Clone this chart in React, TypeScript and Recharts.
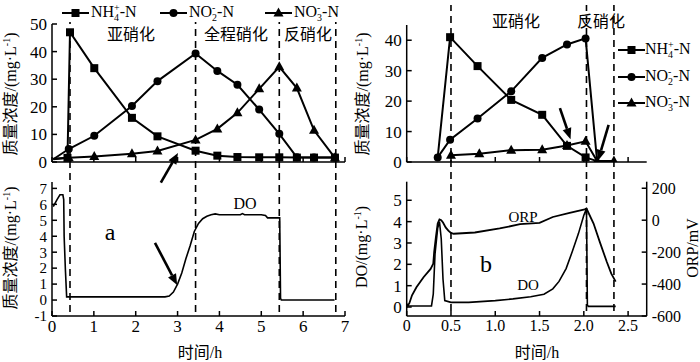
import React from "react";
import { LineChart, Line, XAxis, YAxis, ReferenceLine, Legend } from "recharts";

const SERIF = "'Liberation Serif', 'Times New Roman', serif";
const MIX = "'Liberation Serif', 'Noto Sans CJK SC', serif";

// ---------------- Panel a (left) ----------------
const aNH4Time = [0.03, 0.37, 0.43, 1.01, 1.91, 2.52, 3.43, 3.95, 4.43, 4.95, 5.43, 5.85, 6.26, 6.76];
const aNH4Value = [1.2, 1.5, 47, 34, 16, 9.3, 4.1, 2.3, 1.8, 1.7, 1.7, 1.6, 1.6, 1.6];
const aNO2Time = [0.03, 0.4, 1.01, 1.91, 2.52, 3.43, 3.95, 4.43, 4.95, 5.43, 5.85, 6.26, 6.76];
const aNO2Value = [1.0, 4.7, 9.5, 20.3, 29.3, 39.3, 33, 28, 19, 10.2, 1.7, 1.6, 1.6];
const aNO3Time = [0.03, 0.4, 1.01, 1.91, 2.52, 3.43, 3.95, 4.43, 4.95, 5.43, 5.85, 6.26, 6.76];
const aNO3Value = [1.0, 1.5, 2.0, 3.0, 4.0, 8.0, 12, 17.8, 26.5, 34.5, 26.8, 11.5, 1.5];

const aDOTime = [0.03, 0.12, 0.19, 0.26, 0.28, 0.29, 0.32, 0.35, 1.0, 2.0, 2.7, 2.8, 2.9, 3.0, 3.1, 3.2, 3.3, 3.4, 3.5, 3.6, 3.7, 3.8, 3.9, 4.0, 4.5, 4.55, 4.6, 5.0, 5.1, 5.15, 5.44, 5.46, 5.48, 6.75];
const aDOValue = [5.85, 6.3, 6.6, 6.6, 6.3, 4.0, 1.9, 0.2, 0.2, 0.2, 0.2, 0.25, 0.5, 1.0, 1.7, 2.6, 3.4, 4.3, 4.8, 5.1, 5.25, 5.35, 5.4, 5.35, 5.35, 5.42, 5.35, 5.35, 5.3, 5.15, 5.15, 0.1, 0.0, 0.0];

const aStageLines = [0.43, 3.43, 5.43, 6.78];
const aTopTicks = [0, 1, 2, 3, 4, 5, 6, 7];
const aConcTicks = [0, 10, 20, 30, 40, 50];
const aDOTicks = [-1, 0, 1, 2, 3, 4, 5, 6, 7];
const aTopArrow = [{ x: 2.6, y: -7.5 }, { x: 3.01, y: 3.3 }];
const aBottomArrow = [{ x: 2.46, y: 3.59 }, { x: 2.99, y: 0.94 }];

// ---------------- Panel b (right) ----------------
const bNH4Time = [0.35, 0.49, 0.8, 1.18, 1.53, 1.81, 2.02, 2.15];
const bNH4Value = [1.5, 41, 31.5, 20.4, 15.5, 5.3, 1.5, 0.3];
const bNO2Time = [0.35, 0.49, 0.8, 1.18, 1.53, 1.81, 2.02, 2.15];
const bNO2Value = [1.5, 7.3, 14.3, 23.2, 34.2, 38.6, 40.6, 0.3];
const bNO3Time = [0.5, 0.82, 1.18, 1.53, 1.81, 2.02, 2.15, 2.34];
const bNO3Value = [2.2, 2.7, 3.9, 4.0, 5.4, 6.8, 0.3, 0.3];

const bDOTime = [0, 0.02, 0.28, 0.3, 0.32, 0.35, 0.37, 0.39, 0.41, 0.43, 0.5, 0.7, 1.0, 1.2, 1.4, 1.55, 1.65, 1.72, 1.8, 1.87, 1.94, 2.0, 2.03, 2.04, 2.05, 2.36];
const bDOValue = [0.15, 0.05, 0.05, 0.6, 2.5, 3.7, 4.0, 3.2, 1.3, 0.3, 0.22, 0.22, 0.3, 0.38, 0.48, 0.6, 0.85, 1.2, 1.8, 2.6, 3.45, 4.3, 4.6, 0.1, 0.03, 0.03];
const bORPTime = [0, 0.03, 0.06, 0.11, 0.19, 0.27, 0.3, 0.31, 0.33, 0.35, 0.37, 0.39, 0.41, 0.44, 0.47, 0.5, 0.53, 0.77, 1.05, 1.28, 1.5, 1.65, 1.84, 2.01, 2.03, 2.11, 2.18, 2.26, 2.31, 2.36];
const bORPValue = [-545, -520, -470, -420, -357, -305, -272, -200, -105, -20, 5, 0, -15, -45, -65, -80, -85, -77, -52, -25, -17, 20, 46, 68, 73, -21, -136, -262, -335, -385];

const bStageLines = [0.5, 2.03, 2.34];
const bTimeTicks = [0, 0.5, 1.0, 1.5, 2.0, 2.5];
const bConcTicks = [0, 10, 20, 30, 40];
const bDOTicks = [0, 1, 2, 3, 4, 5];
const bORPTicks = [-600, -400, -200, 0, 200];
const bArrow1 = [{ x: 1.73, y: 17.7 }, { x: 1.85, y: 7.5 }];
const bArrow2 = [{ x: 2.28, y: 12.2 }, { x: 2.16, y: 0.4 }];

const zip = (t: number[], v: number[]) => t.map((x, i) => ({ t: x, v: v[i] }));

type Kind = "square" | "circle" | "triangle";

const Marker = ({ kind, cx, cy }: { kind: Kind; cx: number; cy: number }) => {
  if (kind === "square") return <rect x={cx - 4} y={cy - 4} width={8} height={8} fill="#000" />;
  if (kind === "circle") return <circle cx={cx} cy={cy} r={4} fill="#000" />;
  return <polygon points={`${cx},${cy - 5.5} ${cx + 5},${cy + 3.5} ${cx - 5},${cy + 3.5}`} fill="#000" />;
};

const dotFor = (kind: Kind, skip: number[] = []) => (p: any) => {
  const { cx, cy, index } = p;
  if (cx == null || cy == null || skip.includes(index)) return <g key={`d${index}`} />;
  return (
    <g key={`d${index}`}>
      <Marker kind={kind} cx={cx} cy={cy} />
    </g>
  );
};

const Arrow = (p: any) => {
  const { x1, y1, x2, y2 } = p;
  if ([x1, y1, x2, y2].some((v) => v == null || isNaN(v))) return <g />;
  const ang = Math.atan2(y2 - y1, x2 - x1);
  const L = 11;
  const W = 4.5;
  const bx = x2 - L * Math.cos(ang);
  const by = y2 - L * Math.sin(ang);
  const px = -Math.sin(ang) * W;
  const py = Math.cos(ang) * W;
  return (
    <g>
      <line x1={x1} y1={y1} x2={bx} y2={by} stroke="#000" strokeWidth={2.6} />
      <polygon points={`${x2},${y2} ${bx + px},${by + py} ${bx - px},${by - py}`} fill="#000" />
    </g>
  );
};

const Chem = ({ base, sub, sup }: { base: string; sub?: string; sup: string }) => (
  <span>
    {base}
    <span
      style={{
        display: "inline-flex",
        flexDirection: "column",
        fontSize: "0.62em",
        lineHeight: "10px",
        verticalAlign: "6px",
        alignItems: "flex-start",
      }}
    >
      <span>{sup}</span>
      <span>{sub ?? "\u00a0"}</span>
    </span>
    -N
  </span>
);

const seriesDefs: { key: string; kind: Kind; label: React.ReactNode }[] = [
  { key: "NH4", kind: "square", label: <Chem base="NH" sub="4" sup="+" /> },
  { key: "NO2", kind: "circle", label: <Chem base="NO" sub="2" sup="-" /> },
  { key: "NO3", kind: "triangle", label: <Chem base="NO" sub="3" sup="-" /> },
];

const LegendIcon = ({ kind }: { kind: Kind }) => (
  <svg width={27} height={12} style={{ display: "block", flex: "none" }}>
    <line x1={0} y1={6} x2={27} y2={6} stroke="#000" strokeWidth={2} />
    <Marker kind={kind} cx={13.5} cy={6} />
  </svg>
);

const HorizontalLegend = () => (
  <div style={{ display: "flex", alignItems: "center", fontFamily: SERIF, fontSize: 16, color: "#000", whiteSpace: "nowrap" }}>
    {seriesDefs.map((s, i) => (
      <div key={s.key} style={{ display: "flex", alignItems: "center", width: i === 0 ? 98 : i === 1 ? 105 : 90 }}>
        <LegendIcon kind={s.kind} />
        <span style={{ marginLeft: 2 }}>{s.label}</span>
      </div>
    ))}
  </div>
);

const VerticalLegend = () => (
  <div style={{ fontFamily: SERIF, fontSize: 16, color: "#000", whiteSpace: "nowrap" }}>
    {seriesDefs.map((s) => (
      <div key={s.key} style={{ display: "flex", alignItems: "center", height: 26.5 }}>
        <LegendIcon kind={s.kind} />
        <span>{s.label}</span>
      </div>
    ))}
  </div>
);

const Txt = ({ x, y, size = 16, rotate = false, children }: any) => (
  <div
    style={{
      position: "absolute",
      left: x,
      top: y,
      transform: `translate(-50%, -50%)${rotate ? " rotate(-90deg)" : ""}`,
      fontFamily: MIX,
      fontSize: size,
      color: "#000",
      whiteSpace: "nowrap",
      lineHeight: 1,
      pointerEvents: "none",
    }}
  >
    {children}
  </div>
);

const Unit = () => (
  <span>
    (mg·L<span style={{ fontSize: "0.62em", verticalAlign: "0.55em" }}>-1</span>)
  </span>
);

const axisLine = { stroke: "#000", strokeWidth: 1.5 };
const tickLine = { stroke: "#000", strokeWidth: 1.5 };
const tickStyle = { fill: "#000", fontSize: 16, fontFamily: SERIF };
const tickStyleBig = { fill: "#000", fontSize: 17, fontFamily: SERIF };
const tickStyleDense = { fill: "#000", fontSize: 15, fontFamily: SERIF };
const blank = () => "";

const StageOverlay = ({ width, margin, domain, lines }: any) => (
  <LineChart width={width} height={362} margin={margin}>
    <XAxis dataKey="t" type="number" domain={domain} hide allowDataOverflow />
    <YAxis type="number" domain={[0, 1]} hide allowDataOverflow />
    <Line data={[{ t: domain[0], v: 0 }, { t: domain[1], v: 0 }]} dataKey="v" stroke="none" dot={false} isAnimationActive={false} />
    {lines.map((x: number) => (
      <ReferenceLine key={x} segment={[{ x, y: 0 }, { x, y: 1 }]} ifOverflow="visible" stroke="#000" strokeWidth={1.6} strokeDasharray="7 5" />
    ))}
  </LineChart>
);

export default function App() {
  return (
    <div style={{ position: "relative", width: 700, height: 362, background: "#fff", overflow: "hidden" }}>
      <style>{"body{margin:0}"}</style>

      {/* Panel a top */}
      <div style={{ position: "absolute", left: 0, top: 0 }}>
        <LineChart width={360} height={190} margin={{ top: 24, right: 15, bottom: 18, left: 12 }}>
          <XAxis dataKey="t" type="number" domain={[0, 7]} ticks={aTopTicks} allowDataOverflow height={10}
            axisLine={axisLine} tickLine={tickLine} tickSize={-5} tickFormatter={blank} tick={tickStyle} />
          <YAxis type="number" domain={[0, 50]} ticks={aConcTicks} allowDataOverflow width={40}
            axisLine={axisLine} tickLine={tickLine} tickSize={-5} tickMargin={10} tick={tickStyleBig} />
          <Line data={zip(aNH4Time, aNH4Value)} dataKey="v" name="NH4" stroke="#000" strokeWidth={2} dot={dotFor("square", [0])} isAnimationActive={false} />
          <Line data={zip(aNO2Time, aNO2Value)} dataKey="v" name="NO2" stroke="#000" strokeWidth={2} dot={dotFor("circle", [0])} isAnimationActive={false} />
          <Line data={zip(aNO3Time, aNO3Value)} dataKey="v" name="NO3" stroke="#000" strokeWidth={2} dot={dotFor("triangle", [0])} isAnimationActive={false} />
          <ReferenceLine segment={aTopArrow} ifOverflow="visible" shape={Arrow} />
          <Legend layout="vertical" align="center" verticalAlign="middle" content={() => <HorizontalLegend />}
            wrapperStyle={{ left: 62, top: 3, width: 300, height: 22 }} />
        </LineChart>
      </div>

      {/* Panel a bottom */}
      <div style={{ position: "absolute", left: 0, top: 170 }}>
        <LineChart width={360} height={192} margin={{ top: 12, right: 15, bottom: 16, left: 12 }}>
          <XAxis dataKey="t" type="number" domain={[0, 7]} ticks={aTopTicks} allowDataOverflow height={30}
            axisLine={axisLine} tickLine={tickLine} tickSize={-5} tickMargin={9} tick={tickStyleBig} interval={0} />
          <YAxis type="number" domain={[-1, 7.4]} ticks={aDOTicks} allowDataOverflow width={40}
            axisLine={axisLine} tickLine={tickLine} tickSize={-5} tickMargin={10} tick={tickStyleDense} interval={0} />
          <Line data={zip(aDOTime, aDOValue)} dataKey="v" name="DO" stroke="#000" strokeWidth={1.6} dot={false} isAnimationActive={false} />
          <ReferenceLine segment={aBottomArrow} ifOverflow="visible" shape={Arrow} />
        </LineChart>
      </div>

      {/* Panel a stage lines overlay */}
      <div style={{ position: "absolute", left: 0, top: 0, pointerEvents: "none" }}>
        <StageOverlay width={360} margin={{ top: 22, right: 15, bottom: 50, left: 52 }} domain={[0, 7]} lines={aStageLines} />
      </div>

      {/* Panel b top */}
      <div style={{ position: "absolute", left: 360, top: 0 }}>
        <LineChart width={340} height={172} margin={{ top: 25, right: 53.3, bottom: 0, left: 10.7 }}>
          <XAxis dataKey="t" type="number" domain={[0, 2.71]} ticks={bTimeTicks} allowDataOverflow height={10}
            axisLine={axisLine} tickLine={tickLine} tickSize={-5} tickFormatter={blank} tick={tickStyle} />
          <YAxis type="number" domain={[0, 45]} ticks={bConcTicks} allowDataOverflow width={36}
            axisLine={axisLine} tickLine={tickLine} tickSize={-5} tickMargin={10} tick={tickStyleBig} />
          <Line data={zip(bNH4Time, bNH4Value)} dataKey="v" name="NH4" stroke="#000" strokeWidth={2} dot={dotFor("square", [0, 7])} isAnimationActive={false} />
          <Line data={zip(bNO2Time, bNO2Value)} dataKey="v" name="NO2" stroke="#000" strokeWidth={2} dot={dotFor("circle", [7])} isAnimationActive={false} />
          <Line data={zip(bNO3Time, bNO3Value)} dataKey="v" name="NO3" stroke="#000" strokeWidth={2} dot={dotFor("triangle")} isAnimationActive={false} />
          <ReferenceLine segment={bArrow1} ifOverflow="visible" shape={Arrow} />
          <ReferenceLine segment={bArrow2} ifOverflow="visible" shape={Arrow} />
          <Legend layout="vertical" align="center" verticalAlign="middle" content={() => <VerticalLegend />}
            wrapperStyle={{ left: 258, top: 37, width: 85, height: 80 }} />
        </LineChart>
      </div>

      {/* Panel b bottom */}
      <div style={{ position: "absolute", left: 360, top: 170 }}>
        <LineChart width={340} height={192} margin={{ top: 11.7, right: 3.3, bottom: 16, left: 10.7 }}>
          <XAxis dataKey="t" type="number" domain={[0, 2.71]} ticks={bTimeTicks} allowDataOverflow height={30}
            axisLine={axisLine} tickLine={tickLine} tickSize={-5} tickMargin={9} tick={tickStyle} interval={0}
            tickFormatter={(v: number) => (v === 0 ? "0" : v.toFixed(1))} />
          <YAxis yAxisId="do" orientation="left" type="number" domain={[-0.42, 5.87]} ticks={bDOTicks} allowDataOverflow width={36}
            axisLine={axisLine} tickLine={tickLine} tickSize={-5} tickMargin={10} tick={tickStyleBig} interval={0} />
          <YAxis yAxisId="orp" orientation="right" type="number" domain={[-600, 241]} ticks={bORPTicks} allowDataOverflow width={50}
            axisLine={axisLine} tickLine={tickLine} tickSize={-5} tickMargin={10} tick={tickStyle} interval={0} />
          <Line yAxisId="orp" data={zip(bORPTime, bORPValue)} dataKey="v" name="ORP" stroke="#000" strokeWidth={1.8} dot={false} isAnimationActive={false} />
          <Line yAxisId="do" data={zip(bDOTime, bDOValue)} dataKey="v" name="DO" stroke="#000" strokeWidth={1.6} dot={false} isAnimationActive={false} />
        </LineChart>
      </div>

      {/* Panel b stage lines overlay */}
      <div style={{ position: "absolute", left: 360, top: 0, pointerEvents: "none" }}>
        <StageOverlay width={340} margin={{ top: 5, right: 53.3, bottom: 51, left: 46.7 }} domain={[0, 2.71]} lines={bStageLines} />
      </div>

      {/* stage labels */}
      <Txt x={131} y={35}>亚硝化</Txt>
      <Txt x={236} y={35}>全程硝化</Txt>
      <Txt x={308} y={35}>反硝化</Txt>
      <Txt x={516} y={22}>亚硝化</Txt>
      <Txt x={601} y={22}>反硝化</Txt>

      {/* annotations */}
      <Txt x={245} y={204} size={16}>DO</Txt>
      <Txt x={110} y={232} size={24}>a</Txt>
      <Txt x={523} y={217} size={15}>ORP</Txt>
      <Txt x={528} y={285} size={15}>DO</Txt>
      <Txt x={486} y={264} size={24}>b</Txt>

      {/* axis titles */}
      <Txt x={11} y={94} rotate>质量浓度/<Unit /></Txt>
      <Txt x={11} y={248} rotate>质量浓度/<Unit /></Txt>
      <Txt x={363} y={94} rotate>质量浓度/<Unit /></Txt>
      <Txt x={362} y={247} rotate>DO/<Unit /></Txt>
      <Txt x={693} y={248} rotate>ORP/mV</Txt>
      <Txt x={200} y={353}>时间/h</Txt>
      <Txt x={537} y={353}>时间/h</Txt>
    </div>
  );
}
